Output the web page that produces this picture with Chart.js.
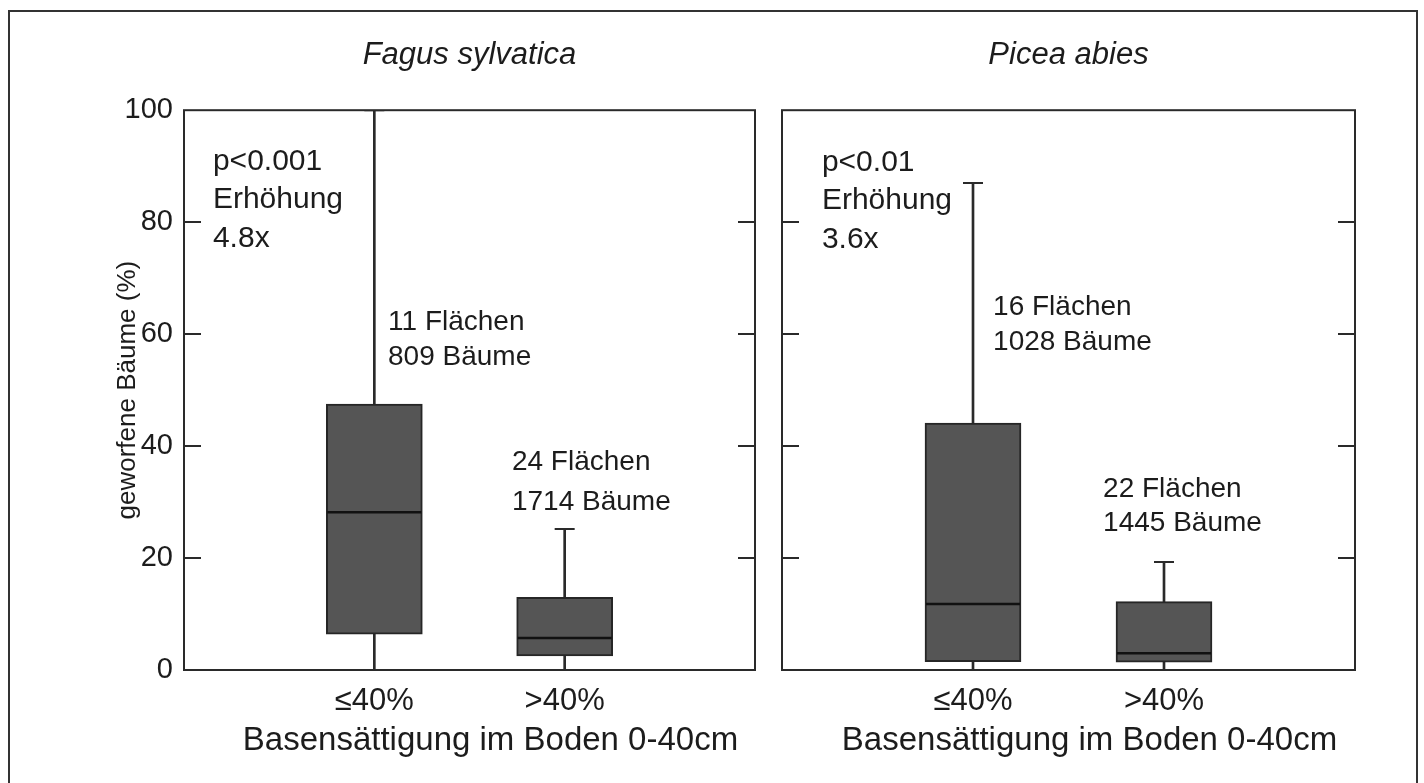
<!DOCTYPE html>
<html>
<head>
<meta charset="utf-8">
<script src="https://cdn.jsdelivr.net/npm/chart.js@4.4.1/dist/chart.umd.min.js"></script>
<style>
html, body { margin: 0; padding: 0; background: #fff; }
body { width: 1424px; height: 783px; position: relative; overflow: hidden; }
#frame { position: absolute; left: 8px; top: 10px; width: 1410px; height: 800px; border: 2px solid #333; box-sizing: border-box; }
.panel { position: absolute; top: 0; height: 783px; }
#left { left: 90px; width: 680px; }
#right { left: 760px; width: 610px; }
</style>
</head>
<body>
<div id="frame"></div>
<div class="panel" id="left"><canvas id="fagus"></canvas></div>
<div class="panel" id="right"><canvas id="picea"></canvas></div>
<script>
// ========== DATA ==========
// category slots 0 and 3 are empty padding so the boxes sit at 1/3 and 2/3 of the panel
const categories = ['', '≤40%', '>40%', ''];
const yTicks = [0, 20, 40, 60, 80, 100];

// Fagus sylvatica (geworfene Bäume, %)
const fagusMin = [0, 0];
const fagusQ1 = [6.4, 2.5];
const fagusMedian = [28.2, 5.7];
const fagusQ3 = [47.5, 13.0];
const fagusMax = [100, 25.2];

// Picea abies
const piceaMin = [0, 0];
const piceaQ1 = [1.5, 1.4];
const piceaMedian = [11.8, 3.0];
const piceaQ3 = [44.1, 12.2];
const piceaMax = [87, 19.3];

const FONT = '"Liberation Sans", Arial, sans-serif';
const INK = '#1c1c1c';
const TICK_LEN = 17;

// text notes placed in data space (x = category index, y = percent)
const fagusNotes = [
    { text: 'p<0.001', x: 0.152, y: 89.3, size: 30 },
    { text: 'Erhöhung', x: 0.152, y: 82.5, size: 30 },
    { text: '4.8x', x: 0.152, y: 75.5, size: 30 },
    { text: '11 Flächen', x: 1.072, y: 60.7, size: 28 },
    { text: '809 Bäume', x: 1.072, y: 54.5, size: 28 },
    { text: '24 Flächen', x: 1.723, y: 35.7, size: 28 },
    { text: '1714 Bäume', x: 1.723, y: 28.6, size: 28 },
];
const piceaNotes = [
    { text: 'p<0.01', x: 0.209, y: 89.1, size: 30 },
    { text: 'Erhöhung', x: 0.209, y: 82.3, size: 30 },
    { text: '3.6x', x: 0.209, y: 75.3, size: 30 },
    { text: '16 Flächen', x: 1.105, y: 63.4, size: 28 },
    { text: '1028 Bäume', x: 1.105, y: 57.1, size: 28 },
    { text: '22 Flächen', x: 1.681, y: 30.9, size: 28 },
    { text: '1445 Bäume', x: 1.681, y: 24.8, size: 28 },
];

const pad = arr => [null, ...arr, null];
const pairs = (a, b) => [null, ...a.map((v, i) => [v, b[i]]), null];
// no point size on the empty end slots, so the layout does not reserve room for them
const onlyInner = r => [0, r, r, 0];

// frame, inward ticks, notes and the x caption
function decor(notes, caption) {
    return {
        id: 'decor',
        afterDraw(chart) {
            const { ctx, chartArea: a, scales } = chart;
            const x = scales.x, y = scales.y;
            ctx.save();
            ctx.strokeStyle = '#2a2a2a';
            ctx.lineWidth = 2;
            ctx.strokeRect(a.left, a.top, a.right - a.left, a.bottom - a.top);
            y.ticks.forEach(t => {
                if (t.value <= y.min || t.value >= y.max) return;
                const py = Math.round(y.getPixelForValue(t.value));
                ctx.beginPath();
                ctx.moveTo(a.left, py); ctx.lineTo(a.left + TICK_LEN, py);
                ctx.moveTo(a.right, py); ctx.lineTo(a.right - TICK_LEN, py);
                ctx.stroke();
            });
            ctx.fillStyle = INK;
            ctx.textAlign = 'left';
            ctx.textBaseline = 'alphabetic';
            notes.forEach(n => {
                ctx.font = `${n.size}px ${FONT}`;
                ctx.fillText(n.text, x.getPixelForValue(n.x), y.getPixelForValue(n.y));
            });
            ctx.font = `33px ${FONT}`;
            ctx.textAlign = 'center';
            ctx.fillText(caption, (a.left + a.right) / 2 + 21, 750);
            ctx.restore();
        },
    };
}

function boxChart(canvasId, title, q1, median, q3, lo, hi, notes, withLabels, yWidth) {
    return new Chart(document.getElementById(canvasId), {
        type: 'bar',
        data: {
            labels: categories,
            datasets: [
                {
                    label: 'whisker', data: pairs(lo, hi), barThickness: 2,
                    backgroundColor: '#2a2a2a', grouped: false, order: 3,
                },
                {
                    label: 'box', data: pairs(q1, q3), barThickness: 96,
                    backgroundColor: '#555555', borderColor: '#262626', borderWidth: 2,
                    borderSkipped: false, grouped: false, order: 2,
                },
                {
                    type: 'line', label: 'median', data: pad(median), showLine: false,
                    pointStyle: 'line', pointRadius: onlyInner(47), pointHoverRadius: 0,
                    pointBorderWidth: 2.5, pointBorderColor: '#111', order: 1,
                },
                {
                    type: 'line', label: 'upper cap', data: pad(hi), showLine: false,
                    pointStyle: 'line', pointRadius: onlyInner(10), pointHoverRadius: 0,
                    pointBorderWidth: 2, pointBorderColor: '#2a2a2a', order: 1,
                },
                {
                    type: 'line', label: 'lower cap', data: pad(lo), showLine: false,
                    pointStyle: 'line', pointRadius: onlyInner(10), pointHoverRadius: 0,
                    pointBorderWidth: 2, pointBorderColor: '#2a2a2a', order: 1,
                },
            ],
        },
        options: {
            responsive: true,
            maintainAspectRatio: false,
            animation: false,
            events: [],
            layout: { padding: { right: 15 } },
            plugins: {
                legend: { display: false },
                tooltip: { enabled: false },
                title: {
                    display: true,
                    text: title,
                    fullSize: false,
                    color: INK,
                    font: { family: FONT, size: 31, style: 'italic', weight: 'normal' },
                    padding: { top: 37, bottom: 36 },
                },
            },
            scales: {
                x: {
                    type: 'category',
                    offset: false,
                    grid: { display: false, drawTicks: false },
                    border: { display: false },
                    ticks: {
                        color: INK, autoSkip: false, maxRotation: 0, padding: 13,
                        font: { family: FONT, size: 31 },
                    },
                    afterFit(s) { s.height = 113; },
                },
                y: {
                    min: 0,
                    max: 100,
                    afterBuildTicks(s) { s.ticks = yTicks.map(v => ({ value: v })); },
                    grid: { display: false, drawTicks: false },
                    border: { display: false },
                    ticks: {
                        display: withLabels, color: INK, padding: 11,
                        font: { family: FONT, size: 29 },
                    },
                    title: {
                        display: withLabels,
                        text: 'geworfene Bäume (%)',
                        color: INK,
                        font: { family: FONT, size: 26 },
                        padding: { top: 22, bottom: 0 },
                    },
                    afterFit(s) { s.width = yWidth; },
                },
            },
        },
        plugins: [decor(notes, 'Basensättigung im Boden 0-40cm')],
    });
}

boxChart('fagus', 'Fagus sylvatica', fagusQ1, fagusMedian, fagusQ3, fagusMin, fagusMax, fagusNotes, true, 94);
boxChart('picea', 'Picea abies', piceaQ1, piceaMedian, piceaQ3, piceaMin, piceaMax, piceaNotes, false, 22);
</script>
</body>
</html>
